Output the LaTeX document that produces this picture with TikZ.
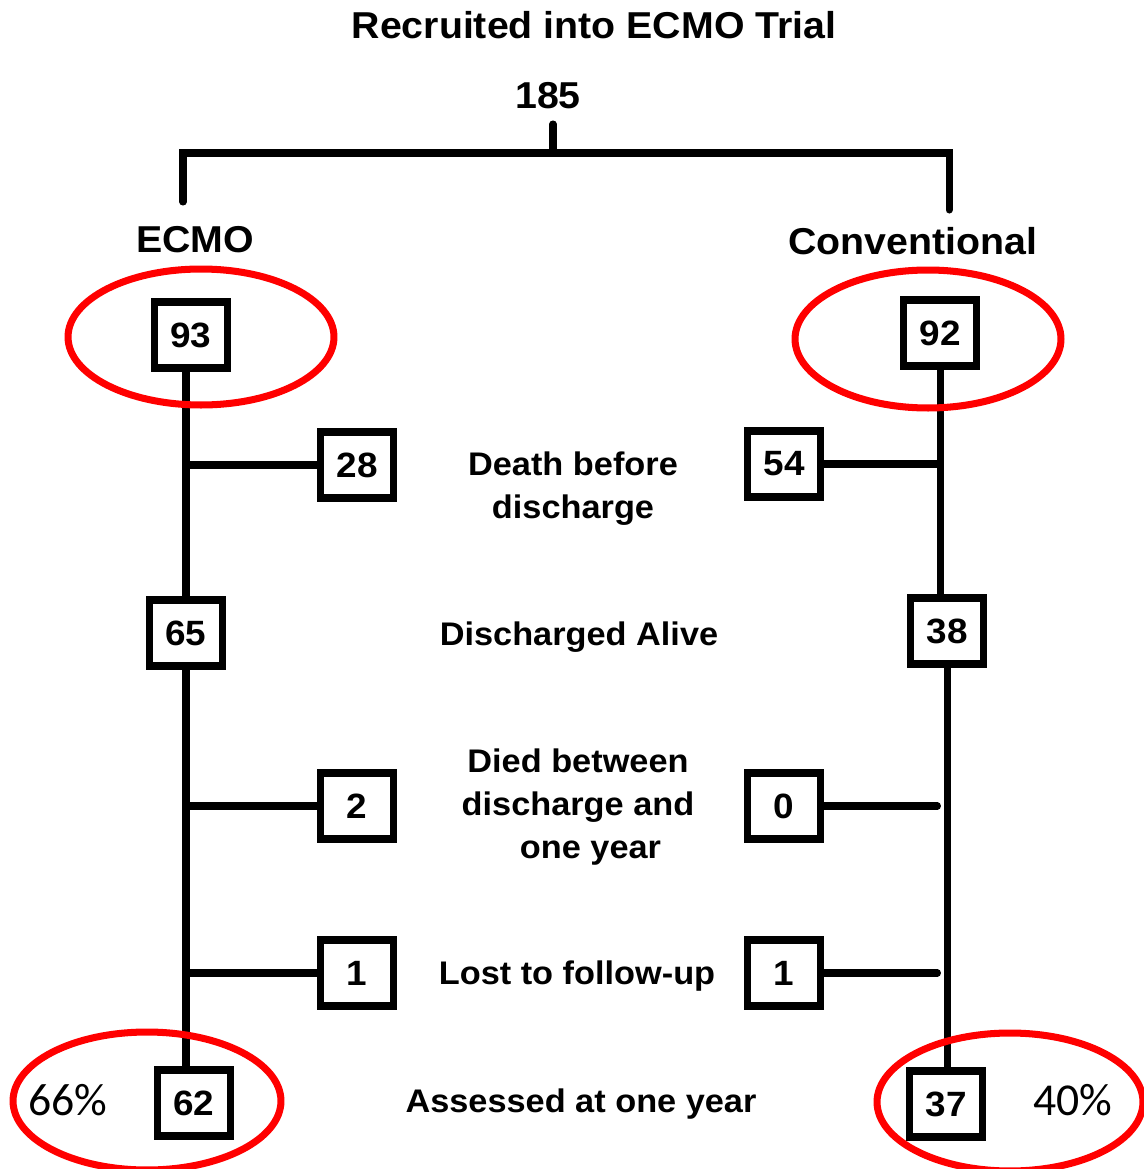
\documentclass[tikz,border=0pt]{standalone}
\usepackage{fontspec}
\setmainfont{Liberation Sans}[FakeStretch=1.05]
\newfontfamily\pctfont{Carlito}
\usetikzlibrary{calc}

\begin{document}
\begin{tikzpicture}[
    x=0.02cm, y=-0.02cm,
    numbox/.style={rectangle, draw, line width=4.5pt,
                minimum width=1.46cm, minimum height=1.32cm, inner sep=0pt,
                font=\fontsize{20}{22}\selectfont\bfseries},
    head/.style={font=\fontsize{21.3}{24}\selectfont\bfseries},
    lbl/.style={align=center, font=\fontsize{18.6}{24.4}\selectfont\bfseries},
    pct/.style={font=\fontsize{26}{30}\selectfont\pctfont},
    link/.style={line width=4pt, line cap=round},
    ring/.style={draw=red, line width=4pt}
  ]
  \useasboundingbox (0,0) rectangle (1143,1169);

  %% ---- Heading and split ----
  \node[head] (title) at (594,25)  {Recruited into ECMO Trial};
  \node[head] (total) at (548,96)  {185};
  \node[head] (armL)  at (195,240) {ECMO};
  \node[head] (armR)  at (913,241) {Conventional};

  \coordinate (stem)  at (553,124);
  \coordinate (brL)   at (183,153);
  \coordinate (brR)   at (949,153);
  \coordinate (legL)  at (183,202);
  \coordinate (legR)  at (949,210);

  %% ---- Count boxes ----
  \node[numbox] (n93)  at (191,335)  {93};
  \node[numbox] (n92)  at (940,333)  {92};
  \node[numbox] (n28)  at (357,465)  {28};
  \node[numbox] (n54)  at (784,464)  {54};
  \node[numbox] (n65)  at (186,633)  {65};
  \node[numbox] (n38)  at (947,631)  {38};
  \node[numbox] (n2)   at (357,806)  {2};
  \node[numbox] (n0)   at (784,806)  {0};
  \node[numbox] (n1l)  at (357,973)  {1};
  \node[numbox] (n1r)  at (784,973)  {1};
  \node[numbox] (n62)  at (194,1103) {62};
  \node[numbox] (n37)  at (946,1104) {37};

  %% ---- Row labels ----
  \node[lbl] (death)    at (573,489)  {Death before\\discharge};
  \node[lbl] (alive)    at (579,637)  {Discharged Alive};
  \node[lbl] (died)     at (578,807)  {Died between\\discharge and\\\hspace*{0.5cm}one year};
  \node[lbl] (lost)     at (577,976)  {Lost to follow-up};
  \node[lbl] (assessed) at (581,1104) {Assessed at one year};

  \node[pct] (pctL) at (68,1100)   {66\%};
  \node[pct] (pctR) at (1073,1100) {40\%};

  %% ---- Connectors ----
  \draw[link] (stem) -- (stem |- brL);
  \draw[link] (legL) -- (brL) -- (brR) -- (legR);

  \draw[link] (n65.north |- n93.south) -- (n65.north);
  \draw[link] (n65.south) -- (n65.south |- n62.north);
  \draw[link] (n28.west)  -- (n28.west -| n65.north);
  \draw[link] (n2.west)   -- (n2.west -| n65.south);
  \draw[link] (n1l.west)  -- (n1l.west -| n65.south);

  \coordinate (stub0) at ([xshift=2.26cm]n0.east);
  \coordinate (stub1) at ([xshift=2.26cm]n1r.east);
  \draw[link] (n92.south) -- (n92.south |- n38.north);
  \draw[link] (n38.south) -- (n38.south |- n37.north);
  \draw[link] (n54.east)  -- (n54.east -| n92.south);
  \draw[link] (n0.east)   -- (stub0);
  \draw[link] (n1r.east)  -- (stub1);

  %% ---- Highlight rings ----
  \draw[ring] (201,337)  ellipse [x radius=2.66cm, y radius=1.36cm];
  \draw[ring] (928,339)  ellipse [x radius=2.66cm, y radius=1.38cm];
  \draw[ring] (147,1101) ellipse [x radius=2.68cm, y radius=1.38cm];
  \draw[ring] (1010,1102) ellipse [x radius=2.66cm, y radius=1.38cm];

\end{tikzpicture}
\end{document}
